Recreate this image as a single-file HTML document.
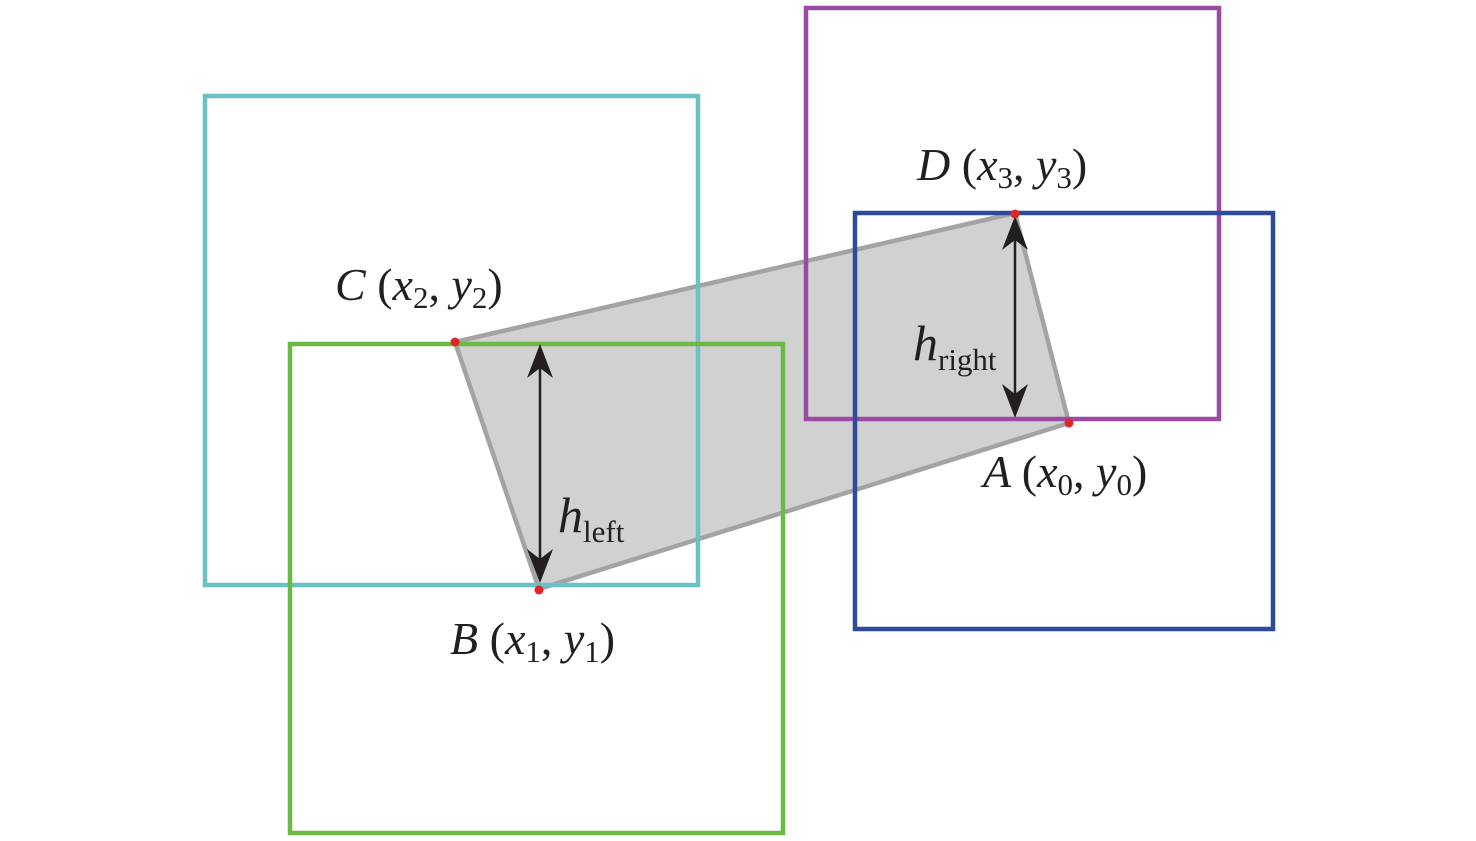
<!DOCTYPE html>
<html><head><meta charset="utf-8"><style>
html,body{margin:0;padding:0;background:#fff;}
svg{display:block;}
text{font-family:"Liberation Serif","Times New Roman","DejaVu Serif",serif;font-style:italic;fill:#231f20;}
.s{font-style:normal;}
</style></head><body>
<svg width="1476" height="841" viewBox="0 0 1476 841" xmlns="http://www.w3.org/2000/svg">
<polygon points="455,342 1015,213 1069,423 539,589" fill="#d1d1d1" stroke="#a3a3a7" stroke-width="4.5" stroke-linejoin="round"/>
<rect x="205" y="96" width="493" height="489" fill="none" stroke="#6cc1c5" stroke-width="4.5"/>
<rect x="290" y="344" width="493" height="489" fill="none" stroke="#6cb944" stroke-width="4.5"/>
<rect x="806" y="8" width="413" height="411" fill="none" stroke="#9a4ba1" stroke-width="4.5"/>
<rect x="855" y="213" width="418" height="416" fill="none" stroke="#2e4a9b" stroke-width="4.5"/>
<g stroke="#231f20" stroke-width="2.5" fill="#231f20">
<line x1="540" y1="355" x2="540" y2="572"/>
<path d="M540,344 L553,378 L540,368 L527,378 Z" stroke="none"/>
<path d="M540,583 L553,549 L540,559 L527,549 Z" stroke="none"/>
<line x1="1015" y1="227" x2="1015" y2="407"/>
<path d="M1015,216 L1028,250 L1015,240 L1002,250 Z" stroke="none"/>
<path d="M1015,418 L1028,384 L1015,394 L1002,384 Z" stroke="none"/>
</g>
<g fill="#e0262a">
<circle cx="455" cy="342" r="4.5"/><circle cx="1015" cy="214" r="4.5"/>
<circle cx="1069" cy="423" r="4.5"/><circle cx="539" cy="590" r="4.5"/>
</g>
<text x="335" y="300" font-size="46">C <tspan class="s">(</tspan>x<tspan font-size="31" dy="8" class="s">2</tspan><tspan dy="-8" class="s">, </tspan>y<tspan font-size="31" dy="8" class="s">2</tspan><tspan dy="-8" class="s">)</tspan></text>
<text x="917" y="180" font-size="46">D <tspan class="s">(</tspan>x<tspan font-size="31" dy="8" class="s">3</tspan><tspan dy="-8" class="s">, </tspan>y<tspan font-size="31" dy="8" class="s">3</tspan><tspan dy="-8" class="s">)</tspan></text>
<text x="983" y="487" font-size="46">A <tspan class="s">(</tspan>x<tspan font-size="31" dy="8" class="s">0</tspan><tspan dy="-8" class="s">, </tspan>y<tspan font-size="31" dy="8" class="s">0</tspan><tspan dy="-8" class="s">)</tspan></text>
<text x="450" y="654" font-size="46">B <tspan class="s">(</tspan>x<tspan font-size="31" dy="8" class="s">1</tspan><tspan dy="-8" class="s">, </tspan>y<tspan font-size="31" dy="8" class="s">1</tspan><tspan dy="-8" class="s">)</tspan></text>
<text x="558" y="532" font-size="50">h<tspan font-size="31" dy="10" class="s">left</tspan></text>
<text x="913" y="360" font-size="50">h<tspan font-size="31" dy="10" class="s">right</tspan></text>
</svg>
</body></html>
